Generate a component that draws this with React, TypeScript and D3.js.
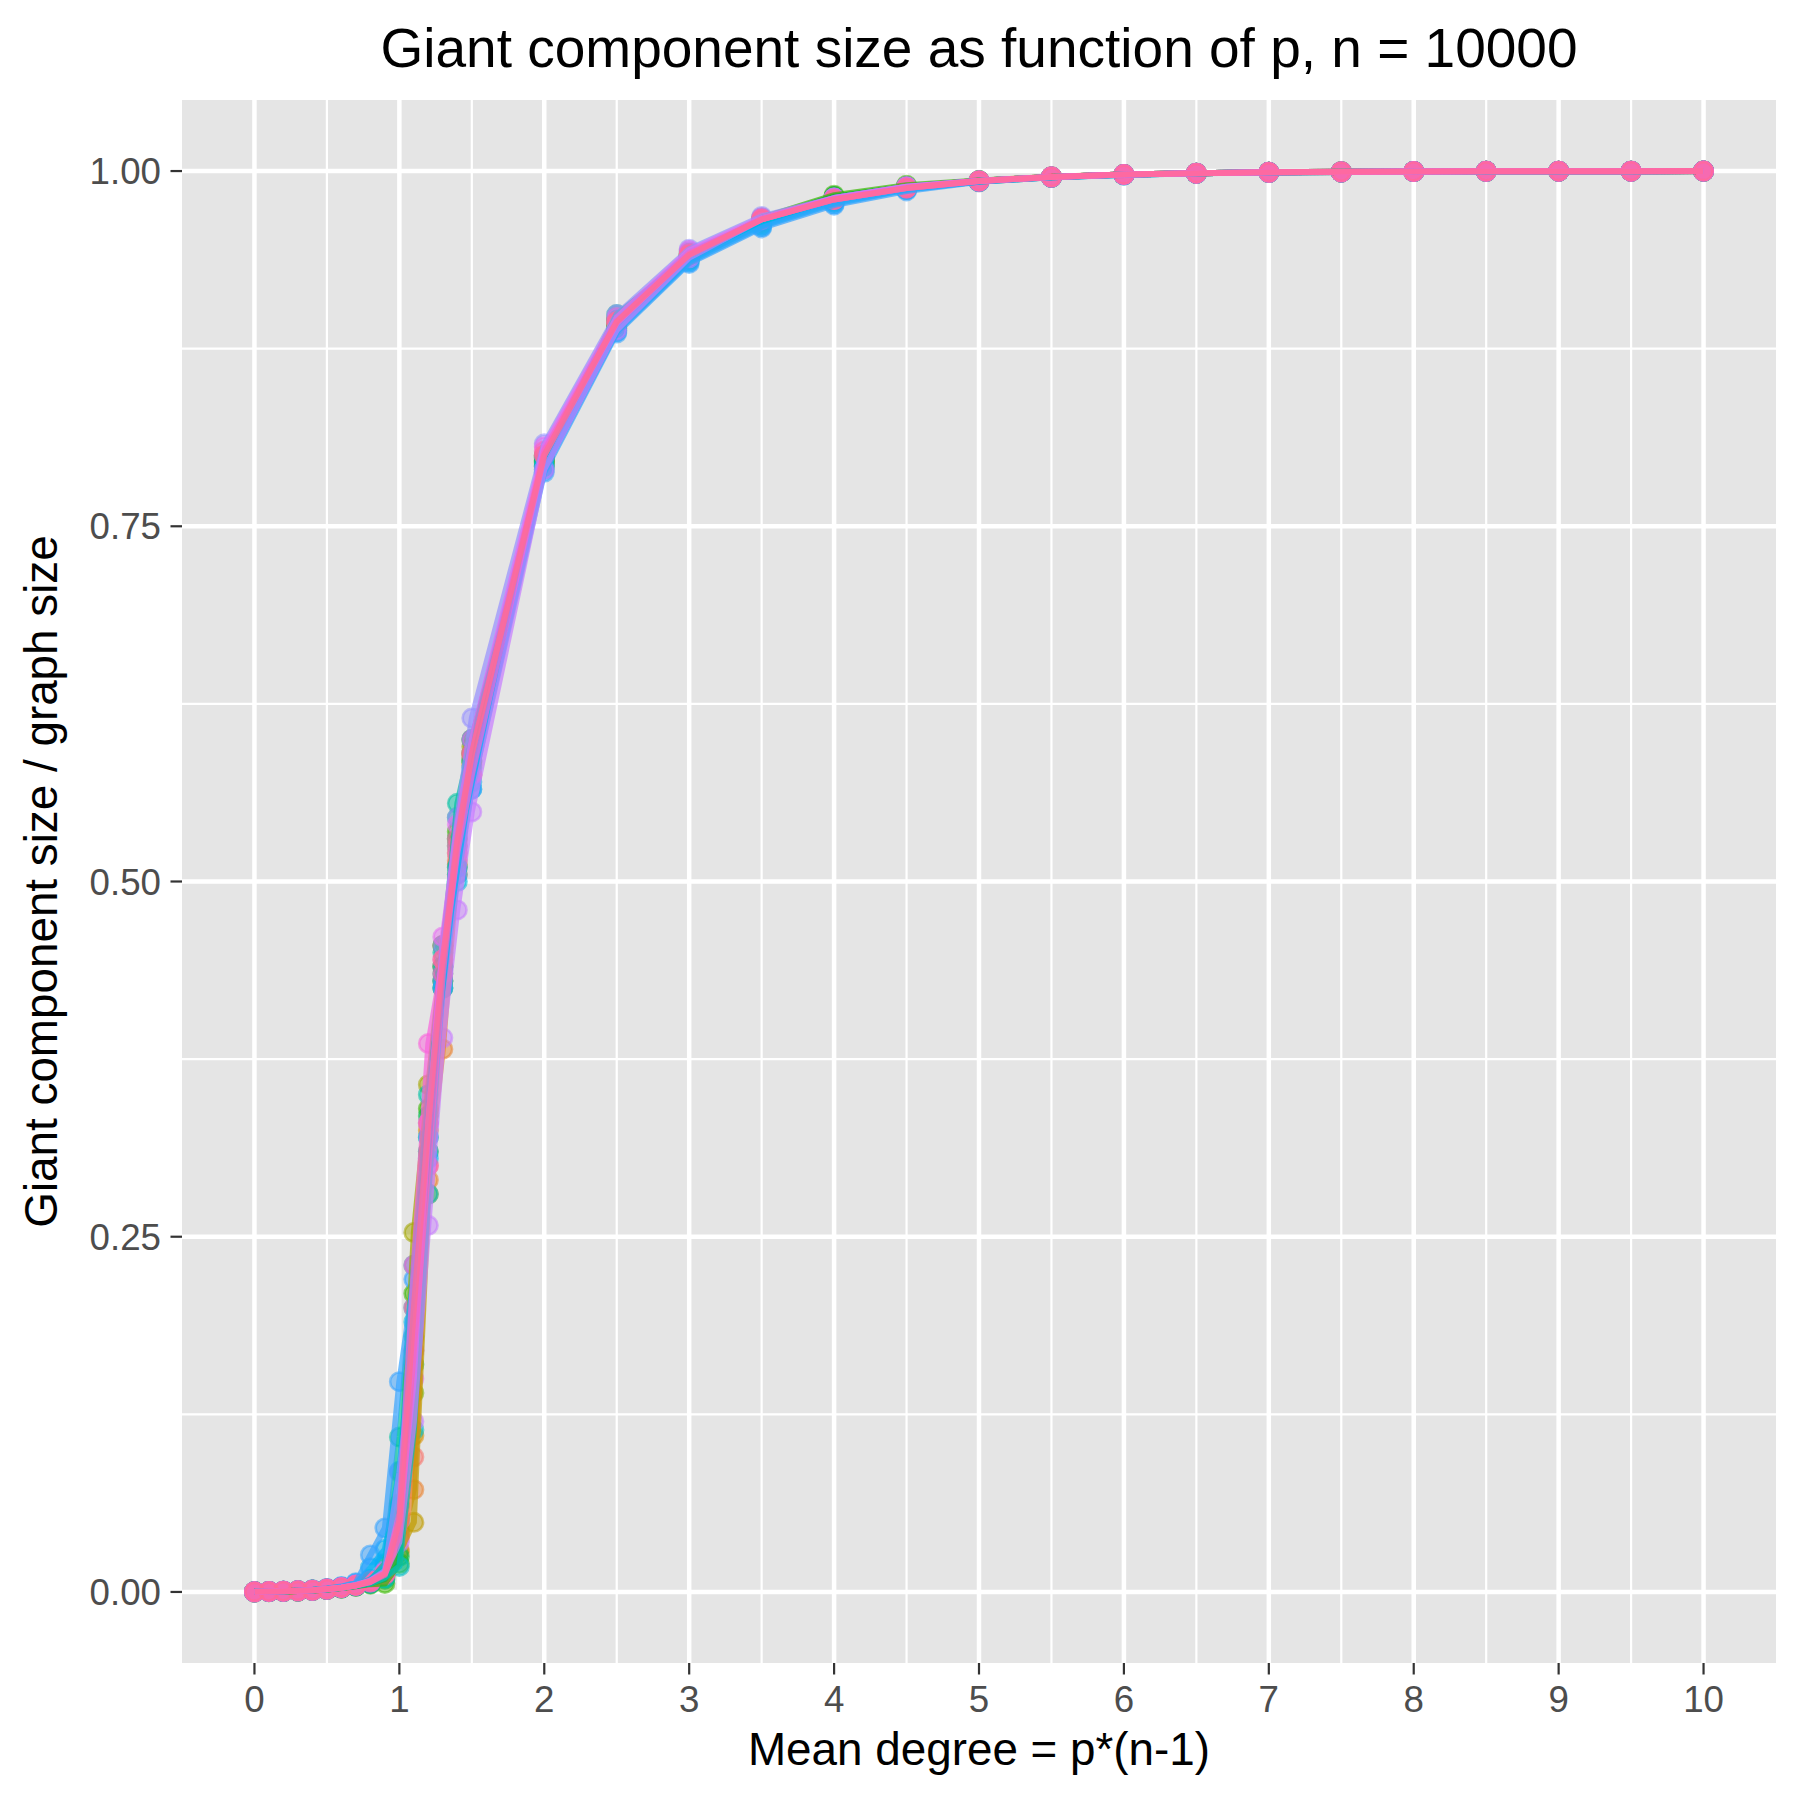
import React from 'react';
import * as d3 from 'd3';

// mean degree values sampled for every run
const meanDegree = [
  0, 0.1, 0.2, 0.3, 0.4, 0.5, 0.6, 0.7, 0.8, 0.9,
  1.0, 1.1, 1.2, 1.3, 1.4, 1.5,
  2, 2.5, 3, 3.5, 4, 4.5, 5, 5.5, 6, 6.5, 7, 7.5, 8, 8.5, 9, 9.5, 10,
];

// ggplot hue palette, 20 runs
const runColors = [
  '#F8766D', '#EA8331', '#D89000', '#C09B00', '#A3A500',
  '#7CAE00', '#39B600', '#00BB4E', '#00BF7D', '#00C1A3',
  '#00BFC4', '#00BAE0', '#00B0F6', '#35A2FF', '#9590FF',
  '#C77CFF', '#E76BF3', '#FA62DB', '#FF62BC', '#FF6C90',
];

// giant component size / graph size, one array per run
const run01 = [0.0001, 0.0003, 0.0005, 0.0008, 0.0012, 0.0019, 0.003, 0.0042, 0.007, 0.013, 0.038, 0.095, 0.30, 0.44, 0.515, 0.588, 0.797, 0.893, 0.940, 0.965, 0.980, 0.988, 0.993, 0.9958, 0.9975, 0.9985, 0.9991, 0.9995, 0.9997, 0.9998, 0.9999, 0.99993, 0.99995];
const run02 = [0.0001, 0.0003, 0.0005, 0.0007, 0.0011, 0.0018, 0.0028, 0.0045, 0.006, 0.011, 0.030, 0.072, 0.29, 0.382, 0.512, 0.582, 0.794, 0.890, 0.939, 0.964, 0.979, 0.988, 0.9925, 0.9957, 0.9974, 0.9984, 0.9991, 0.9994, 0.9997, 0.9998, 0.9999, 0.99993, 0.99995];
const run03 = [0.0001, 0.0003, 0.0004, 0.0008, 0.0013, 0.002, 0.0031, 0.0048, 0.0075, 0.014, 0.042, 0.11, 0.325, 0.425, 0.505, 0.575, 0.792, 0.889, 0.938, 0.966, 0.981, 0.989, 0.9932, 0.996, 0.9976, 0.9985, 0.9991, 0.9995, 0.9997, 0.9998, 0.9999, 0.99994, 0.99995];
const run04 = [0.0001, 0.0002, 0.0005, 0.0008, 0.0012, 0.0021, 0.0029, 0.0044, 0.0065, 0.011, 0.028, 0.049, 0.28, 0.43, 0.52, 0.59, 0.799, 0.894, 0.941, 0.965, 0.980, 0.988, 0.9929, 0.9958, 0.9975, 0.9985, 0.9991, 0.9994, 0.9997, 0.9998, 0.9999, 0.99993, 0.99995];
const run05 = [0.0001, 0.0003, 0.0005, 0.0009, 0.0013, 0.002, 0.0032, 0.005, 0.008, 0.016, 0.062, 0.253, 0.357, 0.455, 0.53, 0.595, 0.800, 0.897, 0.942, 0.966, 0.981, 0.989, 0.9931, 0.9959, 0.9976, 0.9985, 0.9991, 0.9995, 0.9997, 0.9998, 0.9999, 0.99993, 0.99995];
const run06 = [0.0001, 0.0003, 0.0004, 0.0007, 0.0012, 0.0019, 0.003, 0.0046, 0.007, 0.012, 0.045, 0.14, 0.31, 0.44, 0.51, 0.585, 0.796, 0.892, 0.940, 0.966, 0.982, 0.989, 0.9932, 0.9958, 0.9975, 0.9985, 0.9991, 0.9994, 0.9997, 0.9998, 0.9999, 0.99993, 0.99995];
const run07 = [0.0001, 0.0002, 0.0004, 0.0007, 0.0011, 0.0017, 0.0027, 0.004, 0.0055, 0.006, 0.020, 0.21, 0.34, 0.455, 0.535, 0.60, 0.795, 0.891, 0.939, 0.967, 0.983, 0.990, 0.9933, 0.9958, 0.9975, 0.9985, 0.9991, 0.9995, 0.9997, 0.9998, 0.9999, 0.99993, 0.99995];
const run08 = [0.0001, 0.0003, 0.0005, 0.0008, 0.0012, 0.0018, 0.0029, 0.0043, 0.006, 0.009, 0.025, 0.16, 0.335, 0.43, 0.525, 0.59, 0.798, 0.895, 0.941, 0.966, 0.982, 0.989, 0.9931, 0.9958, 0.9975, 0.9985, 0.9991, 0.9994, 0.9997, 0.9998, 0.9999, 0.99993, 0.99995];
const run09 = [0.0001, 0.0003, 0.0005, 0.0008, 0.0012, 0.002, 0.003, 0.0045, 0.007, 0.014, 0.050, 0.18, 0.32, 0.435, 0.545, 0.585, 0.796, 0.899, 0.940, 0.965, 0.981, 0.989, 0.9930, 0.9958, 0.9975, 0.9985, 0.9991, 0.9995, 0.9997, 0.9998, 0.9999, 0.99993, 0.99995];
const run10 = [0.0001, 0.0002, 0.0005, 0.0008, 0.0013, 0.002, 0.0031, 0.0047, 0.008, 0.020, 0.109, 0.23, 0.35, 0.45, 0.555, 0.60, 0.799, 0.896, 0.943, 0.965, 0.980, 0.988, 0.9931, 0.9958, 0.9975, 0.9985, 0.9991, 0.9995, 0.9997, 0.9998, 0.9999, 0.99993, 0.99995];
const run11 = [0.0001, 0.0003, 0.0004, 0.0007, 0.0011, 0.0018, 0.0028, 0.0042, 0.006, 0.010, 0.018, 0.114, 0.28, 0.44, 0.53, 0.58, 0.793, 0.888, 0.937, 0.963, 0.979, 0.988, 0.9928, 0.9957, 0.9974, 0.9985, 0.9991, 0.9994, 0.9997, 0.9998, 0.9999, 0.99993, 0.99995];
const run12 = [0.0001, 0.0003, 0.0005, 0.0008, 0.0012, 0.0019, 0.003, 0.0046, 0.009, 0.018, 0.060, 0.19, 0.31, 0.425, 0.50, 0.565, 0.792, 0.889, 0.938, 0.962, 0.978, 0.987, 0.9927, 0.9957, 0.9974, 0.9984, 0.9991, 0.9994, 0.9997, 0.9998, 0.9999, 0.99993, 0.99995];
const run13 = [0.0001, 0.0003, 0.0005, 0.0009, 0.0014, 0.0022, 0.0035, 0.006, 0.017, 0.030, 0.085, 0.20, 0.305, 0.425, 0.51, 0.57, 0.790, 0.887, 0.936, 0.961, 0.977, 0.987, 0.9926, 0.9956, 0.9974, 0.9984, 0.9991, 0.9994, 0.9997, 0.9998, 0.9999, 0.99993, 0.99995];
const run14 = [0.0001, 0.0003, 0.0006, 0.0009, 0.0015, 0.0024, 0.0038, 0.0065, 0.026, 0.045, 0.148, 0.22, 0.32, 0.43, 0.505, 0.565, 0.788, 0.886, 0.935, 0.960, 0.976, 0.986, 0.9925, 0.9956, 0.9973, 0.9984, 0.9990, 0.9994, 0.9997, 0.9998, 0.9999, 0.99993, 0.99995];
const run15 = [0.0001, 0.0003, 0.0005, 0.0008, 0.0012, 0.002, 0.0031, 0.0047, 0.008, 0.015, 0.084, 0.17, 0.33, 0.455, 0.545, 0.615, 0.808, 0.899, 0.945, 0.968, 0.981, 0.989, 0.9932, 0.9959, 0.9976, 0.9985, 0.9991, 0.9995, 0.9997, 0.9998, 0.9999, 0.99993, 0.99995];
const run16 = [0.0001, 0.0003, 0.0005, 0.0008, 0.0012, 0.0019, 0.003, 0.0046, 0.0075, 0.013, 0.035, 0.12, 0.258, 0.39, 0.48, 0.549, 0.790, 0.888, 0.939, 0.966, 0.981, 0.989, 0.9930, 0.9958, 0.9975, 0.9985, 0.9991, 0.9994, 0.9997, 0.9998, 0.9999, 0.99993, 0.99995];
const run17 = [0.0001, 0.0003, 0.0005, 0.0008, 0.0012, 0.002, 0.0031, 0.005, 0.008, 0.014, 0.050, 0.15, 0.33, 0.461, 0.54, 0.60, 0.806, 0.897, 0.944, 0.967, 0.981, 0.989, 0.9931, 0.9959, 0.9976, 0.9985, 0.9991, 0.9995, 0.9997, 0.9998, 0.9999, 0.99993, 0.99995];
const run18 = [0.0001, 0.0003, 0.0005, 0.0008, 0.0012, 0.002, 0.003, 0.0047, 0.007, 0.013, 0.055, 0.23, 0.386, 0.445, 0.52, 0.575, 0.800, 0.893, 0.941, 0.966, 0.980, 0.988, 0.9930, 0.9958, 0.9975, 0.9985, 0.9991, 0.9994, 0.9997, 0.9998, 0.9999, 0.99993, 0.99995];
const run19 = [0.0001, 0.0003, 0.0005, 0.0008, 0.0012, 0.0019, 0.003, 0.0045, 0.007, 0.012, 0.040, 0.17, 0.30, 0.435, 0.525, 0.59, 0.803, 0.894, 0.942, 0.966, 0.980, 0.988, 0.9930, 0.9958, 0.9975, 0.9985, 0.9991, 0.9995, 0.9997, 0.9998, 0.9999, 0.99993, 0.99995];
const run20 = [0.0001, 0.0003, 0.0005, 0.0008, 0.0012, 0.002, 0.003, 0.0046, 0.0075, 0.013, 0.050, 0.20, 0.33, 0.445, 0.53, 0.59, 0.800, 0.894, 0.941, 0.966, 0.980, 0.988, 0.9930, 0.9958, 0.9975, 0.9985, 0.9991, 0.9995, 0.9997, 0.9998, 0.9999, 0.99993, 0.99995];

const runs = [
  run01, run02, run03, run04, run05, run06, run07, run08, run09, run10,
  run11, run12, run13, run14, run15, run16, run17, run18, run19, run20,
];

const xTicks = [0, 1, 2, 3, 4, 5, 6, 7, 8, 9, 10];
const xMinor = [0.5, 1.5, 2.5, 3.5, 4.5, 5.5, 6.5, 7.5, 8.5, 9.5];
const yTicks = [0, 0.25, 0.5, 0.75, 1];
const yTickLabels = ['0.00', '0.25', '0.50', '0.75', '1.00'];
const yMinor = [0.125, 0.375, 0.625, 0.875];

const FONT = '"Liberation Sans", Arial, Helvetica, sans-serif';

export default function App() {
  const width = 1800;
  const height = 1800;
  const panel = { left: 182, right: 1776, top: 100, bottom: 1663 };

  const x = d3.scaleLinear().domain([-0.5, 10.5]).range([panel.left, panel.right]);
  const y = d3.scaleLinear().domain([-0.05, 1.05]).range([panel.bottom, panel.top]);

  const line = d3.line<number>()
    .x((_, i) => x(meanDegree[i]))
    .y(d => y(d));

  const cx = (panel.left + panel.right) / 2;
  const cy = (panel.top + panel.bottom) / 2;

  return (
    <div style={{ position: 'absolute', left: 0, top: 0 }}>
      <svg width={width} height={height} viewBox={`0 0 ${width} ${height}`} style={{ display: 'block', background: '#fff' }}>
        {/* panel background */}
        <rect x={panel.left} y={panel.top} width={panel.right - panel.left} height={panel.bottom - panel.top} fill="#E5E5E5" />

        {/* minor grid */}
        {xMinor.map(t => (
          <line key={`xm${t}`} x1={x(t)} x2={x(t)} y1={panel.top} y2={panel.bottom} stroke="#fff" strokeWidth={2.2} />
        ))}
        {yMinor.map(t => (
          <line key={`ym${t}`} x1={panel.left} x2={panel.right} y1={y(t)} y2={y(t)} stroke="#fff" strokeWidth={2.2} />
        ))}
        {/* major grid */}
        {xTicks.map(t => (
          <line key={`xg${t}`} x1={x(t)} x2={x(t)} y1={panel.top} y2={panel.bottom} stroke="#fff" strokeWidth={4.5} />
        ))}
        {yTicks.map(t => (
          <line key={`yg${t}`} x1={panel.left} x2={panel.right} y1={y(t)} y2={y(t)} stroke="#fff" strokeWidth={4.5} />
        ))}

        {/* points */}
        {runs.map((run, r) => (
          <g key={`p${r}`}>
            {run.map((v, i) => (
              <circle
                key={i}
                cx={x(meanDegree[i])}
                cy={y(v)}
                r={9.2}
                fill={runColors[r]}
                fillOpacity={0.5}
                stroke={runColors[r]}
                strokeOpacity={0.55}
                strokeWidth={2.6}
              />
            ))}
          </g>
        ))}

        {/* lines */}
        {runs.map((run, r) => (
          <path
            key={`l${r}`}
            d={line(run) || ''}
            fill="none"
            stroke={runColors[r]}
            strokeOpacity={0.7}
            strokeWidth={6}
            strokeLinejoin="round"
          />
        ))}

        {/* x axis */}
        {xTicks.map(t => (
          <g key={`xt${t}`}>
            <line x1={x(t)} x2={x(t)} y1={panel.bottom} y2={panel.bottom + 11.5} stroke="#333333" strokeWidth={2.2} />
            <text x={x(t)} y={1712} textAnchor="middle" fontFamily={FONT} fontSize={36.7} fill="#4D4D4D">{t}</text>
          </g>
        ))}

        {/* y axis */}
        {yTicks.map((t, i) => (
          <g key={`yt${t}`}>
            <line x1={panel.left - 11.5} x2={panel.left} y1={y(t)} y2={y(t)} stroke="#333333" strokeWidth={2.2} />
            <text x={161} y={y(t)} dy="0.36em" textAnchor="end" fontFamily={FONT} fontSize={36.7} fill="#4D4D4D">{yTickLabels[i]}</text>
          </g>
        ))}

        {/* titles */}
        <text x={cx} y={1765} textAnchor="middle" fontFamily={FONT} fontSize={45.8} fill="#000">Mean degree = p*(n-1)</text>
        <text
          transform={`translate(57, ${cy}) rotate(-90)`}
          textAnchor="middle"
          fontFamily={FONT}
          fontSize={45.8}
          fill="#000"
        >
          Giant component size / graph size
        </text>
        <text x={cx} y={67} textAnchor="middle" fontFamily={FONT} fontSize={55} fill="#000">
          Giant component size as function of p, n = 10000
        </text>
      </svg>
    </div>
  );
}
